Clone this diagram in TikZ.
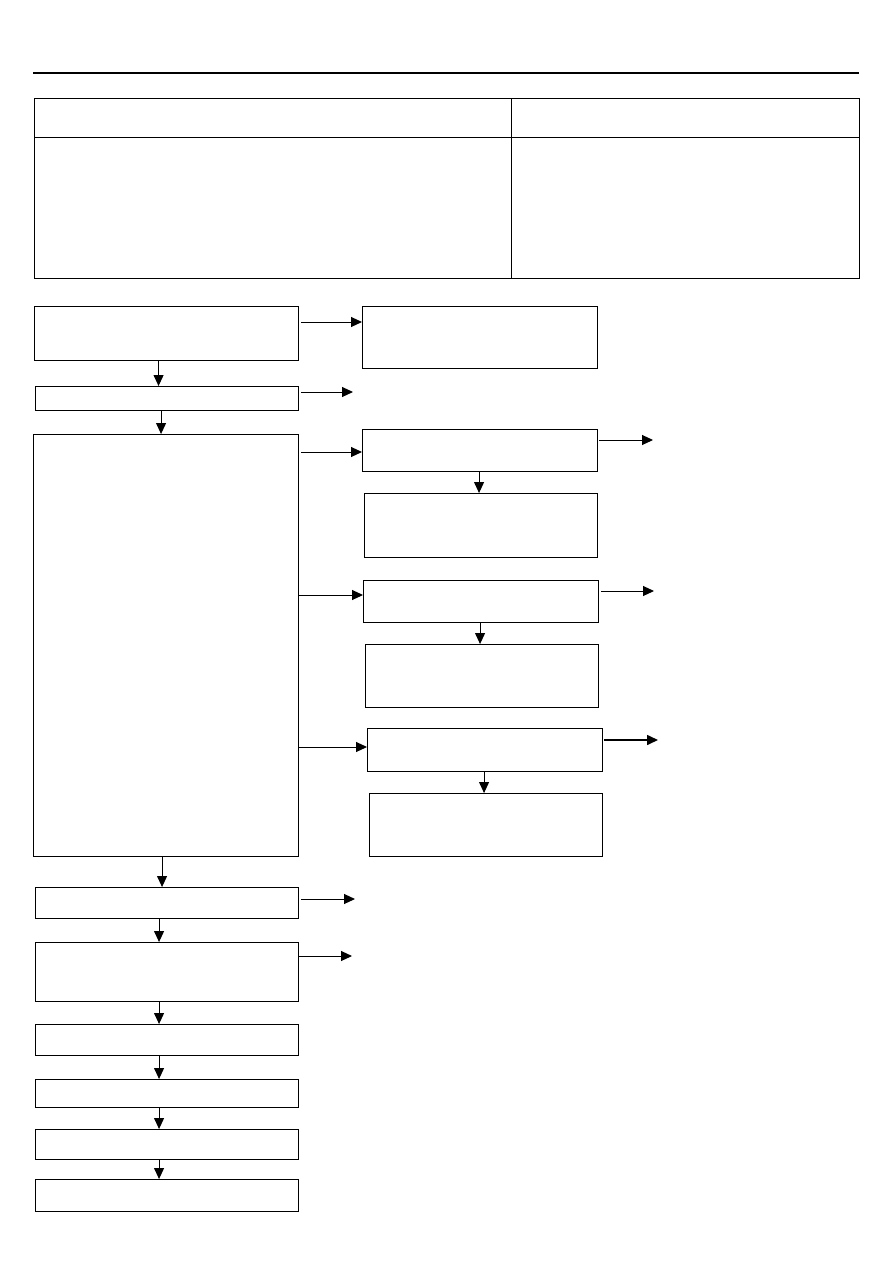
\documentclass[tikz,border=0pt]{standalone}
\usetikzlibrary{arrows.meta,positioning}

\begin{document}
\begin{tikzpicture}[x=1pt,y=-1pt,>={Triangle[length=11pt,width=10pt]},
    box/.style={draw,line width=1.1pt,rectangle,anchor=north west,inner sep=0pt},
    cell/.style={draw,line width=1.1pt,rectangle,anchor=north west,inner sep=0pt},
    arr/.style={->,line width=1pt}]

    \useasboundingbox (0,0) rectangle (893,1263);

    % header rule
    \draw[line width=2.6pt] (33,73) -- (859,73);

    % table
    \node[cell,minimum width=477pt,minimum height=39pt]  (hdrL)  at (34,98)  {};
    \node[cell,minimum width=348pt,minimum height=39pt]  (hdrR)  at (511,98) {};
    \node[cell,minimum width=477pt,minimum height=141pt] (bodyL) at (34,137) {};
    \node[cell,minimum width=348pt,minimum height=141pt] (bodyR) at (511,137) {};

    % main column
    \node[box,minimum width=264pt,minimum height=54pt]  (start)  at (34,306)  {};
    \node[box,minimum width=263pt,minimum height=24pt]  (check)  at (35,386)  {};
    \node[box,minimum width=265pt,minimum height=422pt] (branch) at (33,434)  {};
    \node[box,minimum width=263pt,minimum height=31pt]  (stepD)  at (35,887)  {};
    \node[box,minimum width=263pt,minimum height=59pt]  (stepE)  at (35,942)  {};
    \node[box,minimum width=263pt,minimum height=31pt]  (stepF)  at (35,1024) {};
    \node[box,minimum width=263pt,minimum height=28pt]  (stepG)  at (35,1079) {};
    \node[box,minimum width=263pt,minimum height=30pt]  (stepH)  at (35,1129) {};
    \node[box,minimum width=263pt,minimum height=32pt]  (stepI)  at (35,1179) {};

    % side column
    \node[box,minimum width=235pt,minimum height=62pt] (side)  at (362,306) {};
    \node[box,minimum width=235pt,minimum height=42pt] (caseA) at (362,429) {};
    \node[box,minimum width=233pt,minimum height=64pt] (fixA)  at (364,493) {};
    \node[box,minimum width=235pt,minimum height=42pt] (caseB) at (363,580) {};
    \node[box,minimum width=233pt,minimum height=63pt] (fixB)  at (365,644) {};
    \node[box,minimum width=235pt,minimum height=43pt] (caseC) at (367,728) {};
    \node[box,minimum width=233pt,minimum height=63pt] (fixC)  at (369,793) {};

    % free ends
    \coordinate (outB) at (353,392);
    \coordinate (outA) at (653,440);
    \coordinate (outBB) at (654,591);
    \coordinate (outC) at (658,740);
    \coordinate (outD) at (355,899);
    \coordinate (outE) at (352,956);

    % down the main column
    \draw[arr] ([xshift=-8pt]start.south)  -- ([xshift=-8pt]start.south |- check.north);
    \draw[arr] ([xshift=-6pt]check.south)  -- ([xshift=-6pt]check.south |- branch.north);
    \draw[arr] ([xshift=-4pt]branch.south) -- ([xshift=-4pt]branch.south |- stepD.north);
    \draw[arr] ([xshift=-8pt]stepD.south)  -- ([xshift=-8pt]stepE.north);
    \draw[arr] ([xshift=-8pt]stepE.south)  -- ([xshift=-8pt]stepF.north);
    \draw[arr] ([xshift=-8pt]stepF.south)  -- ([xshift=-8pt]stepG.north);
    \draw[arr] ([xshift=-8pt]stepG.south)  -- ([xshift=-8pt]stepH.north);
    \draw[arr] ([xshift=-8pt]stepH.south)  -- ([xshift=-8pt]stepI.north);

    % across to the side column
    \draw[arr] ([shift={(2,16)}]start.north east) -- ([yshift=-16pt]side.north west);
    \draw[arr] ([shift={(2,18)}]branch.north east) -- ([yshift=-23pt]caseA.north west);
    \draw[arr] ([shift={(0,161)}]branch.north east) -- ([yshift=-15pt]caseB.north west);
    \draw[arr] ([shift={(0,313)}]branch.north east) -- ([yshift=-19pt]caseC.north west);

    % down the side column
    \draw[arr] ([xshift=-1pt]caseA.south) -- ([xshift=-1pt]caseA.south |- fixA.north);
    \draw[arr] ([xshift=-1pt]caseB.south) -- ([xshift=-1pt]caseB.south |- fixB.north);
    \draw[arr] ([xshift=-1pt]caseC.south) -- ([xshift=-1pt]caseC.south |- fixC.north);

    % out to the right
    \draw[arr] ([shift={(2,6)}]check.north east) -- (outB);
    \draw[arr] ([shift={(1,11)}]caseA.north east) -- (outA);
    \draw[arr] ([shift={(2,11)}]caseB.north east) -- (outBB);
    \draw[arr,line width=1.6pt] ([shift={(1,12)}]caseC.north east) -- (outC);
    \draw[arr] ([shift={(2,12)}]stepD.north east) -- (outD);
    \draw[arr] ([yshift=-14pt]stepE.north east) -- (outE);
\end{tikzpicture}
\end{document}
